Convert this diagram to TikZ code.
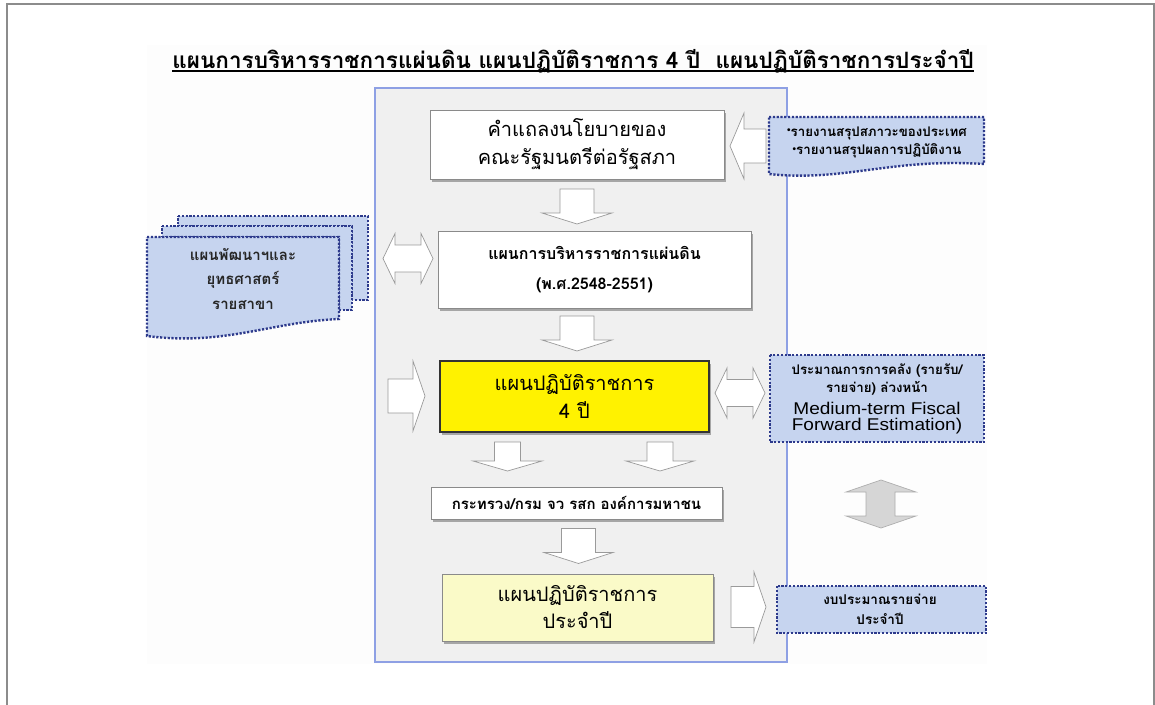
\documentclass[tikz,border=0pt]{standalone}
\usepackage{fontspec}
\setmainfont{Loma}[Script=Thai]
\newfontfamily\lat{Liberation Sans}
\newfontfamily\latw{Liberation Sans}[FakeStretch=1.12]
\usetikzlibrary{calc,shadows}
\definecolor{mainfill}{HTML}{F0F0F0}
\definecolor{mainline}{HTML}{8EA0E4}
\definecolor{docfill}{HTML}{C6D4EF}
\definecolor{docline}{HTML}{2D3A8C}
\definecolor{frameline}{HTML}{8C8C8C}
\definecolor{boxline}{HTML}{8A8A8A}
\definecolor{lightyellow}{HTML}{FAFAC8}
\definecolor{arrline}{HTML}{9A9A9A}
\definecolor{grayarrow}{HTML}{D6D6D6}
\definecolor{faint}{HTML}{FDFDFD}
\newcommand\bul{\raisebox{2.5pt}{\lat\bfseries\fontsize{10}{10}\selectfont •}}
\tikzset{
  plainbox/.style={draw=boxline, fill=white, line width=0.8pt, inner sep=0pt,
    drop shadow={shadow xshift=2pt, shadow yshift=-2.5pt, fill=gray!70, opacity=1}},
  docstyle/.style={fill=docfill, draw=docline, line width=2.4pt, dash pattern=on 2.2pt off 1.6pt},
  barrow/.style={draw=arrline, fill=white, line width=0.7pt, line join=miter},
  gbarrow/.style={draw=arrline!80, fill=grayarrow, line width=0.7pt},
  label/.style={inner sep=0pt, align=center}
}
\newcommand\DownArr[6]{% cx top bottom shafthalf headhalf headlen
  \draw[barrow] (#1-#4,#2) -- (#1+#4,#2) -- (#1+#4,#3-#6) -- (#1+#5,#3-#6) -- (#1,#3)
    -- (#1-#5,#3-#6) -- (#1-#4,#3-#6) -- cycle;}
\newcommand\RightArr[6]{% lx rx cy shafthalf headhalf headlen
  \draw[barrow] (#1,#3-#4) -- (#2-#6,#3-#4) -- (#2-#6,#3-#5) -- (#2,#3) -- (#2-#6,#3+#5)
    -- (#2-#6,#3+#4) -- (#1,#3+#4) -- cycle;}
\newcommand\LeftArr[6]{% lx rx cy shafthalf headhalf headlen
  \draw[barrow] (#2,#3-#4) -- (#1+#6,#3-#4) -- (#1+#6,#3-#5) -- (#1,#3) -- (#1+#6,#3+#5)
    -- (#1+#6,#3+#4) -- (#2,#3+#4) -- cycle;}
\newcommand\HDouble[6]{% lx rx cy shafthalf headhalf headlen
  \draw[barrow] (#1,#3) -- (#1+#6,#3-#5) -- (#1+#6,#3-#4) -- (#2-#6,#3-#4) -- (#2-#6,#3-#5)
    -- (#2,#3) -- (#2-#6,#3+#5) -- (#2-#6,#3+#4) -- (#1+#6,#3+#4) -- (#1+#6,#3+#5) -- cycle;}
\begin{document}
\begin{tikzpicture}[x=1pt,y=-1pt]
\useasboundingbox (0,0) rectangle (1155,704);
\fill[white] (0,0) rectangle (1155,704);
% frame
\draw[frameline, line width=2pt] (7,710) -- (7,4) -- (1154,4) -- (1154,710);
% faint backdrop
\fill[faint] (147,45) rectangle (987,664);
% title
\node[label, anchor=base, font=\bfseries\fontsize{22.5}{26}\selectfont] (title) at (573,68)
  {แผนการบริหารราชการแผ่นดิน แผนปฏิบัติราชการ 4 ปี~~แผนปฏิบัติราชการประจำปี};
\draw[line width=1.8pt] ($(title.base west)+(0,3.2)$) -- ($(title.base east)+(0,3.2)$);
% main container
\node[draw=mainline, fill=mainfill, line width=2pt, minimum width=412, minimum height=574, inner sep=0pt]
  (main) at (580.5,375) {};
% boxes
\node[plainbox, minimum width=294, minimum height=69, label, font=\fontsize{20}{28}\selectfont]
  (b1) at (577,144.5) {คำแถลงนโยบายของ\\คณะรัฐมนตรีต่อรัฐสภา};
\node[plainbox, drop shadow={opacity=0}, minimum width=313, minimum height=77, label,
  font=\bfseries\fontsize{16}{30}\selectfont]
  (b2) at (594.5,269.5) {แผนการบริหารราชการแผ่นดิน\\(พ.ศ.2548-2551)};
\node[plainbox, fill=yellow, draw=black!80, line width=2.5pt, minimum width=269, minimum height=71, label,
  font=\fontsize{20}{28}\selectfont]
  (b3) at (574.5,396.5) {แผนปฏิบัติราชการ\\4 ปี};
\node[plainbox, minimum width=291, minimum height=32, label, font=\bfseries\fontsize{15}{17}\selectfont]
  (b4) at (576.5,503) {กระทรวง/กรม จว รสก องค์การมหาชน};
\node[plainbox, fill=lightyellow, minimum width=271, minimum height=67, label, font=\fontsize{20}{27}\selectfont]
  (b5) at (577.5,607.5) {แผนปฏิบัติราชการ\\ประจำปี};
% right top document
\draw[docstyle] (769,117) -- (984,117) -- (984,164)
  .. controls (890,158) and (845,182) .. (769,174) -- cycle;
\node[label, font=\bfseries\fontsize{13.3}{18.5}\selectfont] (r1) at (877,142.5)
  {\bul รายงานสรุปสภาวะของประเทศ\\\bul รายงานสรุปผลการปฏิบัติงาน};
% right middle box
\draw[docstyle] (770,355) rectangle (984,442);
\node[label, font=\bfseries\fontsize{13.3}{18}\selectfont] (r2a) at (877,380)
  {ประมาณการการคลัง (รายรับ/\\รายจ่าย) ล่วงหน้า};
\node[label, font=\latw\fontsize{17}{16}\selectfont] (r2b) at (877,418)
  {Medium-term Fiscal\\Forward Estimation)};
% right bottom box
\draw[docstyle] (777,586) rectangle (986,633);
\node[label, font=\bfseries\fontsize{13.5}{20}\selectfont] (r3) at (880,609.5)
  {งบประมาณรายจ่าย\\ประจำปี};
% left stacked documents
\draw[docstyle] (178,216) -- (368,216) -- (368,300) -- (352,300) -- (352,226) -- (178,226) -- cycle;
\draw[docstyle] (162,226) -- (352,226) -- (352,310) -- (339,310) -- (339,237) -- (162,237) -- cycle;
\draw[docstyle] (147,237) -- (339,237) -- (339,319)
  .. controls (270,322) and (225,346) .. (147,336) -- cycle;
\node[label, font=\bfseries\fontsize{15}{24.5}\selectfont, text=black!85] (l1) at (243,278.5)
  {แผนพัฒนาฯและ\\ยุทธศาสตร์\\รายสาขา};
% block arrows
\DownArr{577}{189}{224}{17}{35}{11}
\DownArr{577}{316}{351}{17}{35}{11}
\DownArr{507.5}{442}{471}{13}{34.5}{10}
\DownArr{660}{442}{471}{13}{34}{10}
\DownArr{578.5}{528.5}{563.5}{17}{34.5}{11}
\LeftArr{730}{766}{146}{17}{33}{14}
\HDouble{383}{433}{258.5}{13.5}{25}{12}
\RightArr{388}{425}{396}{17}{35}{12}
\HDouble{715}{765}{393}{13.5}{25}{12}
\RightArr{731}{766}{607}{20.5}{35}{12}
% gray vertical double arrow
\draw[gbarrow] (881,480) -- (916,492) -- (895,492) -- (895,516) -- (916,516) -- (881,528)
  -- (846,516) -- (866,516) -- (866,492) -- (846,492) -- cycle;
\end{tikzpicture}
\end{document}
